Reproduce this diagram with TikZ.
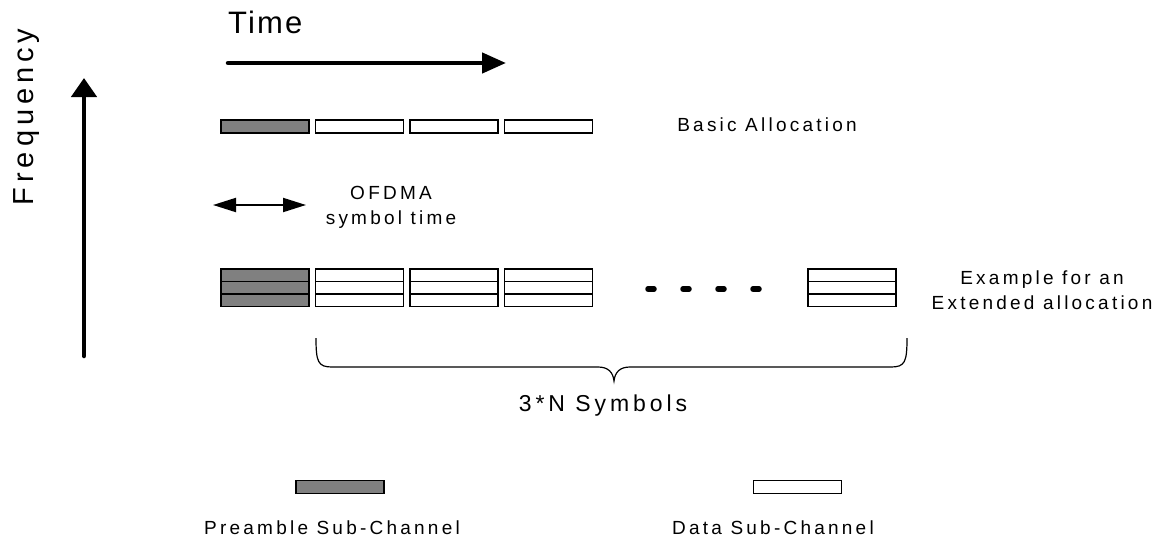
\documentclass[tikz,border=0pt]{standalone}
\usepackage{fontspec}
\setmainfont{Liberation Sans}
\newfontfamily\labelfont[LetterSpace=17]{Liberation Sans}
\usetikzlibrary{
    arrows.meta,
    decorations.pathreplacing,
    positioning,
}

\begin{document}
\begin{tikzpicture}[x=1pt,y=-1pt,>=Triangle]

    \tikzstyle{channel}=[rectangle, draw=black, line width=1.2pt, inner sep=0pt, minimum width=88pt]
    \tikzstyle{basicChannel}=[channel, minimum height=13pt]
    \tikzstyle{extChannel}=[channel, minimum height=12.5pt]
    \tikzstyle{preamble}=[fill=gray]
    \tikzstyle{data}=[fill=white]
    \tikzstyle{smallText}=[font=\labelfont\fontsize{19}{25}\selectfont, align=center, inner sep=0pt]
    \tikzstyle{bigText}=[font=\labelfont\fontsize{31}{36}\selectfont, inner sep=0pt]
    \tikzstyle{axisArrow}=[line width=4.5pt, line cap=round]

    \useasboundingbox (0,0) rectangle (1164,546);

    \begin{scope}
        % Spacing the channels out
        \def \xstart {265}
        \def \hspacing {94.5}
        \def \ybasic {126.5}
        \def \yext {275.3}
        \def \vspacing {12.5}

        % Axes
        \coordinate (freqTail) at (84,356);
        \coordinate (freqTip) at (84,78);
        \coordinate (timeTail) at (228,63);
        \coordinate (timeTip) at (506,63);
        \draw [axisArrow, -{Triangle[length=19pt,width=25pt]}] (freqTail) -- (freqTip);
        \draw [axisArrow, -{Triangle[length=24pt,width=20pt]}] (timeTail) -- (timeTip);
        \node at (33,117) [bigText, font=\labelfont\fontsize{29}{34}\selectfont, rotate=90, anchor=base] (freq) {Frequency};
        \node at (228,33) [bigText, font=\labelfont\addfontfeature{LetterSpace=7}\fontsize{31}{36}\selectfont, anchor=base west] (time) {Time};

        % Basic allocation
        \node at (\xstart+0*\hspacing, \ybasic) [basicChannel, preamble] (BP)  {};
        \node at (\xstart+1*\hspacing, \ybasic) [basicChannel, data]     (BD1) {};
        \node at (\xstart+2*\hspacing, \ybasic) [basicChannel, data]     (BD2) {};
        \node at (\xstart+3*\hspacing, \ybasic) [basicChannel, data]     (BD3) {};
        \node at (767,131.7) [smallText, anchor=base] (basicText) {Basic Allocation};

        % Symbol time
        \coordinate (symL) at (213,205);
        \coordinate (symR) at (306,205);
        \draw [line width=2pt, {Triangle[length=23pt,width=14pt]}-{Triangle[length=23pt,width=14pt]}] (symL) -- (symR);
        \node at (391,207) [smallText] (symText) {OFDMA \\ symbol time};

        % Extended allocation
        \node at (\xstart+0*\hspacing, \yext+0*\vspacing) [extChannel, preamble] (EP1) {};
        \node at (\xstart+0*\hspacing, \yext+1*\vspacing) [extChannel, preamble] (EP2) {};
        \node at (\xstart+0*\hspacing, \yext+2*\vspacing) [extChannel, preamble] (EP3) {};
        \node at (\xstart+1*\hspacing, \yext+0*\vspacing) [extChannel, data] (EA1) {};
        \node at (\xstart+1*\hspacing, \yext+1*\vspacing) [extChannel, data] (EA2) {};
        \node at (\xstart+1*\hspacing, \yext+2*\vspacing) [extChannel, data] (EA3) {};
        \node at (\xstart+2*\hspacing, \yext+0*\vspacing) [extChannel, data] (EB1) {};
        \node at (\xstart+2*\hspacing, \yext+1*\vspacing) [extChannel, data] (EB2) {};
        \node at (\xstart+2*\hspacing, \yext+2*\vspacing) [extChannel, data] (EB3) {};
        \node at (\xstart+3*\hspacing, \yext+0*\vspacing) [extChannel, data] (EC1) {};
        \node at (\xstart+3*\hspacing, \yext+1*\vspacing) [extChannel, data] (EC2) {};
        \node at (\xstart+3*\hspacing, \yext+2*\vspacing) [extChannel, data] (EC3) {};
        \node at (852, \yext+0*\vspacing) [extChannel, data] (EN1) {};
        \node at (852, \yext+1*\vspacing) [extChannel, data] (EN2) {};
        \node at (852, \yext+2*\vspacing) [extChannel, data] (EN3) {};
        \draw [line width=5.5pt, line cap=round]
            (648,289) -- (654,289)
            (683,289) -- (689,289)
            (718,289) -- (724,289)
            (753,289) -- (759,289);
        \node at (1042,290) [smallText] (extText) {Example for an \\ Extended allocation};

        % Brace
        \coordinate (braceL) at (316,338);
        \coordinate (braceR) at (907,338);
        \coordinate (braceTip) at (614,381);
        \draw [line width=1.2pt] (braceL) .. controls (316,362) and (318,367) .. (332,367)
            -- (598,367) .. controls (608,367) and (613,372) .. (braceTip)
            .. controls (615,372) and (620,367) .. (630,367)
            -- (891,367) .. controls (905,367) and (907,362) .. (braceR);
        \node at (603,411.7) [smallText, font=\labelfont\fontsize{23}{28}\selectfont, anchor=base] (symbolsText) {3*N Symbols};

        % Legend
        \node at (340,487) [basicChannel, preamble] (legP) {};
        \node at (797.5,487) [basicChannel, data] (legD) {};
        \node at (332,534) [smallText, anchor=base] (legPText) {Preamble Sub-Channel};
        \node at (773,534) [smallText, anchor=base] (legDText) {Data Sub-Channel};
    \end{scope}

\end{tikzpicture}
\end{document}
